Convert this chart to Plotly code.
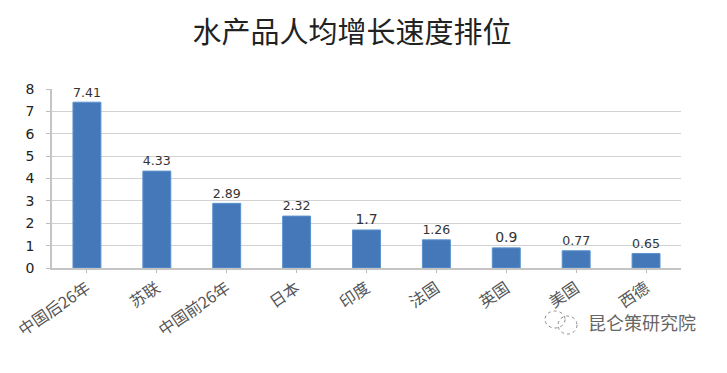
import plotly.graph_objects as go

categories = ["中国后26年", "苏联", "中国前26年", "日本", "印度", "法国", "英国", "美国", "西德"]
values = [7.41, 4.33, 2.89, 2.32, 1.7, 1.26, 0.9, 0.77, 0.65]
value_labels = ["7.41", "4.33", "2.89", "2.32", "1.7", "1.26", "0.9", "0.77", "0.65"]
title_text = "水产品人均增长速度排位"
watermark = "昆仑策研究院"

CJK = "Noto Sans CJK SC"
LATIN = "DejaVu Sans"
W, H = 711, 357  # the page adds an 8 px margin round the figure
PLOT_L, PLOT_R, PLOT_T, PLOT_B = 52, 681, 89, 268


def cx(x):  # page pixel to container fraction
    return (x - 8) / W


def cy(y):
    return 1 - (y - 8) / H


def ax(x):  # page pixel to plot-area ("paper") fraction
    return (x - PLOT_L) / (PLOT_R - PLOT_L)


def ay(y):
    return (PLOT_B - y) / (PLOT_B - PLOT_T)


fig = go.Figure(go.Bar(
    x=categories, y=values, width=0.4,
    marker=dict(color="#4478B8", line=dict(color="#5B93CF", width=1)),
    text=value_labels, textposition="outside", cliponaxis=False,
    textfont=dict(family=LATIN, size=14, color="#333333"),
))
icon = dict(type="circle", xref="paper", yref="paper",
            line=dict(color="#888888", width=1, dash="dot"))
fig.update_layout(
    width=W, height=H, autosize=False, showlegend=False,
    paper_bgcolor="white", plot_bgcolor="white",
    margin=dict(l=44, r=38, t=81, b=97, autoexpand=False),
    font=dict(family=CJK),
    title=dict(text=title_text, x=cx(352), xanchor="center", y=cy(33), yanchor="middle",
               font=dict(family=CJK, size=29, color="#222222")),
    annotations=[dict(text=watermark, x=ax(642), y=ay(322), xref="paper", yref="paper",
                      showarrow=False, xanchor="center", yanchor="middle",
                      font=dict(family=CJK, size=18, color="#666666"))],
    shapes=[
        dict(icon, x0=ax(545), x1=ax(565), y0=ay(328), y1=ay(311)),
        dict(icon, x0=ax(558), x1=ax(577), y0=ay(334), y1=ay(316)),
    ],
)
fig.update_xaxes(type="category", tickangle=-34, ticks="outside", ticklen=3, tickcolor="#BBBBBB",
                 showline=True, linecolor="#C4C4C4", linewidth=1.5, showgrid=False,
                 automargin=False, ticklabelstandoff=0,
                 tickfont=dict(family=CJK, size=16, color="#555555"))
fig.update_yaxes(range=[0, 8], dtick=1, ticks="outside", ticklen=4, tickcolor="#BBBBBB",
                 showline=True, linecolor="#C4C4C4", linewidth=1.5,
                 showgrid=True, gridcolor="#D2D2D2", gridwidth=1.2, zeroline=False,
                 automargin=False, ticklabelstandoff=9,
                 tickfont=dict(family=LATIN, size=14, color="#222222"))
fig.write_html("out.html")
